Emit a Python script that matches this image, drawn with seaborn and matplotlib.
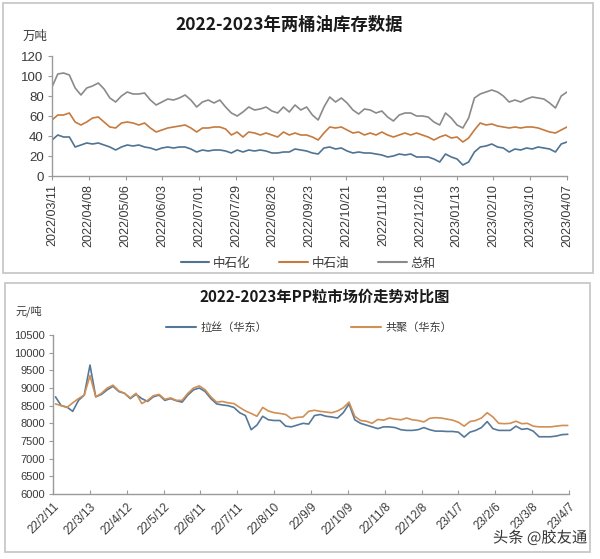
import numpy as np
import pandas as pd
import matplotlib
matplotlib.use("Agg")
import matplotlib.pyplot as plt
import seaborn as sns
from matplotlib.patches import Rectangle
import matplotlib.patheffects as pe

# ---------------- data: top chart (万吨) ----------------
top_start, top_end = "2022-03-11", "2023-04-07"
top_tick_labels = ["2022/03/11", "2022/04/08", "2022/05/06", "2022/06/03", "2022/07/01",
                   "2022/07/29", "2022/08/26", "2022/09/23", "2022/10/21", "2022/11/18",
                   "2022/12/16", "2023/01/13", "2023/02/10", "2023/03/10", "2023/04/07"]
sinopec = [36, 41, 39, 39, 29, 31, 33, 32, 33, 31,
           29, 26, 29, 31, 30, 31, 29, 28, 26, 28,
           29, 28, 29, 29, 27, 24, 26, 25, 26, 26,
           25, 23, 26, 24, 26, 25, 26, 25, 23, 23,
           24, 24, 27, 26, 25, 23, 22, 28, 29, 27,
           28, 25, 23, 24, 23, 23, 22, 21, 19, 20,
           22, 21, 22, 19, 19, 19, 17, 14, 22, 19,
           17, 11, 14, 24, 29, 30, 32, 29, 28, 24,
           27, 26, 28, 27, 29, 28, 27, 24, 32, 34]
petrochina = [56, 61, 61, 63, 54, 51, 54, 58, 59, 54,
              49, 48, 53, 54, 53, 51, 53, 48, 44, 46,
              48, 49, 50, 51, 48, 44, 48, 48, 49, 49,
              47, 41, 44, 39, 44, 43, 41, 43, 41, 39,
              44, 41, 43, 41, 41, 39, 36, 43, 49, 48,
              49, 46, 43, 44, 41, 43, 41, 44, 41, 39,
              41, 43, 41, 43, 41, 39, 36, 39, 41, 38,
              39, 34, 38, 46, 53, 51, 52, 50, 49, 48,
              49, 48, 49, 49, 48, 46, 44, 43, 46, 49]
total = [89, 102, 103, 101, 88, 81, 88, 90, 93, 87,
         78, 74, 80, 84, 82, 82, 83, 76, 71, 74,
         77, 76, 78, 81, 76, 69, 74, 76, 73, 76,
         69, 63, 60, 64, 69, 66, 67, 69, 65, 63,
         69, 64, 71, 66, 69, 61, 56, 69, 79, 74,
         78, 73, 66, 62, 67, 66, 63, 65, 59, 55,
         61, 63, 63, 60, 60, 59, 54, 51, 63, 58,
         51, 48, 58, 78, 82, 84, 86, 84, 80, 74,
         76, 74, 77, 79, 78, 77, 73, 68, 80, 84]
top_series = ["中石化", "中石油", "总和"]

# ---------------- data: bottom chart (元/吨) ----------------
bot_start, bot_end = "2022-02-11", "2023-04-07"
bot_tick_dates = ["2022-02-11", "2022-03-13", "2022-04-12", "2022-05-12", "2022-06-11",
                  "2022-07-11", "2022-08-10", "2022-09-09", "2022-10-09", "2022-11-08",
                  "2022-12-08", "2023-01-07", "2023-02-06", "2023-03-08", "2023-04-07"]
bot_tick_labels = ["22/2/11", "22/3/13", "22/4/12", "22/5/12", "22/6/11", "22/7/11",
                   "22/8/10", "22/9/9", "22/10/9", "22/11/8", "22/12/8", "23/1/7",
                   "23/2/6", "23/3/8", "23/4/7"]
lasi = [8750, 8500, 8460, 8340, 8650, 8800, 9650, 8750, 8820, 8950,
        9050, 8900, 8850, 8700, 8820, 8700, 8620, 8750, 8800, 8650,
        8700, 8640, 8600, 8800, 8950, 9000, 8900, 8700, 8550, 8520,
        8500, 8450, 8300, 8220, 7820, 7950, 8200, 8100, 8080, 8080,
        7920, 7900, 7950, 8000, 7980, 8220, 8250, 8200, 8180, 8150,
        8300, 8550, 8100, 8000, 7950, 7900, 7850, 7900, 7900, 7880,
        7820, 7800, 7800, 7820, 7880, 7820, 7780, 7780, 7770, 7770,
        7750, 7610, 7750, 7800, 7880, 8050, 7850, 7800, 7800, 7800,
        7920, 7830, 7850, 7780, 7620, 7620, 7620, 7640, 7680, 7690]
gongju = [8550, 8500, 8450, 8580, 8700, 8800, 9350, 8750, 8850, 9000,
          9080, 8920, 8850, 8720, 8850, 8560, 8650, 8780, 8820, 8680,
          8720, 8650, 8650, 8850, 9000, 9060, 8950, 8750, 8600, 8620,
          8580, 8560, 8450, 8350, 8280, 8200, 8450, 8350, 8300, 8280,
          8250, 8130, 8170, 8180, 8340, 8370, 8340, 8320, 8300, 8350,
          8440, 8600, 8200, 8080, 8060, 8000, 8110, 8090, 8150, 8120,
          8100, 8150, 8100, 8080, 8040, 8140, 8160, 8150, 8120, 8090,
          8030, 7920, 8050, 8080, 8150, 8300, 8180, 8000, 7990, 8000,
          8060, 7990, 8000, 7920, 7900, 7900, 7900, 7920, 7940, 7940]
bot_series = ["拉丝（华东）", "共聚（华东）"]

# ---------------- style ----------------
sns.set_style("white")
plt.rcParams['font.family'] = ['Liberation Sans', 'Noto Sans CJK SC']
CJK = ['Noto Sans CJK SC', 'DejaVu Sans']
W, H = 600, 559
fig = plt.figure(figsize=(6, 5.59), dpi=100)

def fx(x): return x / W
def fy(y): return 1 - y / H

for (x0, y0, x1, y1) in [(3, 3, 593, 273), (5, 283, 590, 552)]:
    fig.add_artist(Rectangle((fx(x0), fy(y1)), (x1 - x0) / W, (y1 - y0) / H,
                             transform=fig.transFigure, fill=False,
                             ec='#c8c8c8', lw=1.3))

axis_col = '#9a9a9a'
txt_col = '#3a3a3a'

# ---------------- top chart ----------------
ax1 = fig.add_axes([fx(52), fy(176), 515 / W, 120 / H])
tdates = pd.date_range(top_start, top_end, periods=len(total))
top_df = pd.DataFrame({"date": np.tile(tdates, 3),
                       "value": sinopec + petrochina + total,
                       "series": np.repeat(top_series, len(tdates))})
top_colors = {"中石化": "#4f7392", "中石油": "#c57a3e", "总和": "#8a8a8a"}
sns.lineplot(data=top_df, x="date", y="value", hue="series", palette=top_colors,
             hue_order=top_series, ax=ax1, lw=1.2, legend=False)
ax1.set_xlim(pd.Timestamp(top_start), pd.Timestamp(top_end))
ax1.set_ylim(0, 120)
ax1.set_yticks(range(0, 121, 20))
ax1.set_xticks(pd.to_datetime(top_tick_labels, format="%Y/%m/%d"))
ax1.set_xticklabels(top_tick_labels, rotation=90, va='top', ha='center')
ax1.set_xlabel("")
ax1.set_ylabel("")
for s in ["top", "right"]:
    ax1.spines[s].set_visible(False)
for s in ["left", "bottom"]:
    ax1.spines[s].set_color(axis_col)
    ax1.spines[s].set_linewidth(1.0)
ax1.tick_params(axis='y', direction='out', length=3, width=0.8, color=axis_col,
                labelsize=9.5, labelcolor=txt_col, pad=3, left=True)
ax1.tick_params(axis='x', direction='out', length=3, width=0.8, color=axis_col,
                labelsize=9, labelcolor=txt_col, pad=3, bottom=True)
ax1.patch.set_alpha(0)

fig.text(fx(289), fy(25), "2022-2023年两桶油库存数据", ha='center', va='center',
         fontsize=12.5, fontweight='bold', family=CJK, color='#1a1a1a')
fig.text(fx(23), fy(36), "万吨", ha='left', va='center', fontsize=9, family=CJK,
         color=txt_col)
h1 = [plt.Line2D([], [], color=top_colors[s], lw=1.5) for s in top_series]
fig.legend(h1, top_series, loc='center', bbox_to_anchor=(fx(308), fy(263)),
           ncol=3, frameon=False, prop=dict(family=CJK, size=9),
           handlelength=2.3, handletextpad=0.3, columnspacing=2.3,
           labelcolor=txt_col)

# ---------------- bottom chart ----------------
ax2 = fig.add_axes([fx(53), fy(494), 516 / W, 159 / H])
bdates = pd.date_range("2022-02-13", "2023-04-06", periods=len(lasi))
bot_df = pd.DataFrame({"date": np.tile(bdates, 2),
                       "value": lasi + gongju,
                       "series": np.repeat(bot_series, len(bdates))})
bot_colors = {"拉丝（华东）": "#55789a", "共聚（华东）": "#d08f55"}
sns.lineplot(data=bot_df, x="date", y="value", hue="series", palette=bot_colors,
             hue_order=bot_series, ax=ax2, lw=1.2, legend=False)
ax2.set_xlim(pd.Timestamp(bot_start), pd.Timestamp(bot_end))
ax2.set_ylim(6000, 10500)
ax2.set_yticks(range(6000, 10501, 500))
ax2.set_xticks(pd.to_datetime(bot_tick_dates))
ax2.set_xticklabels(bot_tick_labels, rotation=45, ha='right', va='top',
                    rotation_mode='anchor')
ax2.set_xlabel("")
ax2.set_ylabel("")
for s in ["top", "right"]:
    ax2.spines[s].set_visible(False)
for s in ["left", "bottom"]:
    ax2.spines[s].set_color(axis_col)
    ax2.spines[s].set_linewidth(1.0)
ax2.tick_params(axis='y', direction='out', length=3, width=0.8, color=axis_col,
                labelsize=8, labelcolor=txt_col, pad=3, left=True)
ax2.tick_params(axis='x', direction='in', length=3, width=0.8, color=axis_col,
                labelsize=8.5, labelcolor=txt_col, pad=5, bottom=True)
ax2.patch.set_alpha(0)

fig.text(fx(325), fy(297), "2022-2023年PP粒市场价走势对比图", ha='center', va='center',
         fontsize=11, fontweight='bold', family=CJK, color='#1a1a1a')
fig.text(fx(15), fy(311), "元/吨", ha='left', va='center', fontsize=8, family=CJK,
         color=txt_col)
h2 = [plt.Line2D([], [], color=bot_colors[s], lw=1.5) for s in bot_series]
fig.legend(h2, bot_series, loc='center', bbox_to_anchor=(fx(309), fy(328)),
           ncol=2, frameon=False, prop=dict(family=CJK, size=8),
           handlelength=2.7, handletextpad=0.4, columnspacing=7.5,
           labelcolor=txt_col)

fig.text(fx(540), fy(538), "头条 @胶友通", ha='center', va='center', fontsize=11,
         family=CJK, color='#333333',
         path_effects=[pe.withStroke(linewidth=2.5, foreground='white')])

fig.savefig("out.png", dpi=100)
